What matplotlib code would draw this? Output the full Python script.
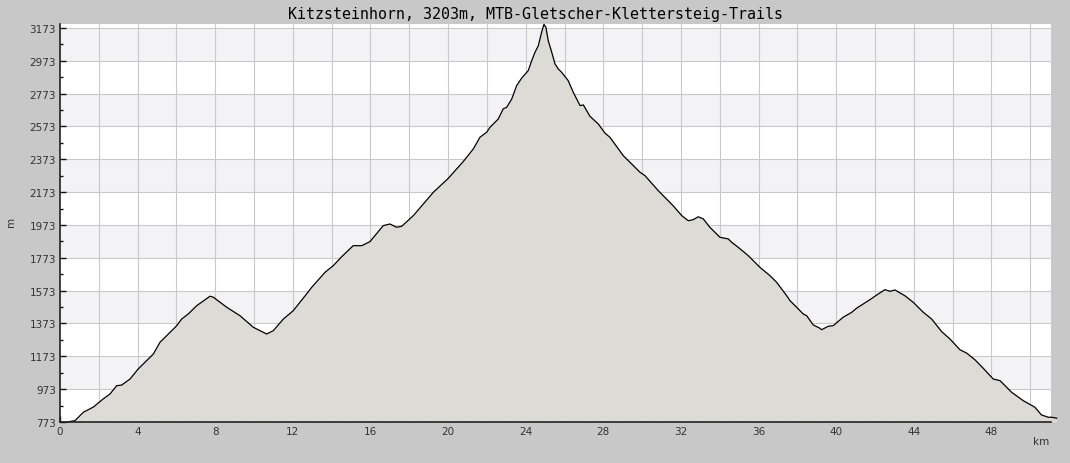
import numpy as np
import matplotlib
matplotlib.use("Agg")
import matplotlib.pyplot as plt
from matplotlib.ticker import MultipleLocator, FixedLocator

# distance (km) and elevation (m)
km = [0.36, 0.77, 1.20, 1.72, 2.22, 2.58, 2.92, 3.18, 3.61, 4.03, 4.81, 5.15, 5.50, 6.01,
      6.27, 6.61, 7.04, 7.73, 7.90, 8.59, 9.28, 9.96, 10.31, 10.65, 10.99, 11.51, 12.02,
      12.71, 12.97, 13.66, 14.08, 14.52, 15.11, 15.55, 15.97, 16.66, 17.00, 17.35, 17.61,
      18.21, 19.24, 20.01, 20.78, 21.30, 21.64, 21.99, 22.16, 22.59, 22.84, 23.02, 23.28,
      23.53, 23.79, 24.13, 24.31, 24.48, 24.65, 24.82, 24.94, 25.04, 25.16, 25.34, 25.51,
      25.68, 25.85, 26.19, 26.45, 26.80, 26.97, 27.31, 27.74, 28.08, 28.34, 29.03, 29.89,
      30.15, 30.83, 31.60, 32.04, 32.38, 32.63, 32.89, 33.15, 33.49, 34.01, 34.44, 34.61,
      34.95, 35.47, 36.07, 36.59, 36.93, 37.45, 37.62, 37.96, 38.30, 38.48, 38.82, 39.16,
      39.25, 39.59, 39.85, 40.36, 40.80, 41.05, 41.74, 42.17, 42.51, 42.77, 43.03, 43.54,
      43.97, 44.49, 44.92, 45.44, 45.86, 46.38, 46.72, 47.15, 47.58, 48.09, 48.44, 49.04,
      49.64, 50.24, 50.58, 50.93, 51.10, 51.36]
elev = [773, 781, 832, 864, 913, 944, 994, 998, 1035, 1096, 1187, 1258, 1299, 1359,
        1400, 1431, 1481, 1539, 1533, 1472, 1420, 1350, 1329, 1309, 1329, 1400, 1451,
        1553, 1593, 1685, 1725, 1780, 1847, 1847, 1871, 1969, 1979, 1959, 1965,
        2030, 2172, 2257, 2359, 2436, 2507, 2538, 2568, 2619, 2680, 2690, 2740,
        2821, 2867, 2913, 2974, 3025, 3065, 3147, 3195, 3177, 3096, 3025, 2954,
        2923, 2903, 2852, 2781, 2700, 2704, 2635, 2588, 2533, 2507, 2395, 2294,
        2273, 2182, 2090, 2030, 1999, 2005, 2023, 2010, 1959, 1898, 1888, 1868,
        1837, 1786, 1715, 1664, 1624, 1542, 1512, 1472, 1431, 1420, 1364, 1344,
        1335, 1356, 1360, 1411, 1441, 1466, 1518, 1553, 1579, 1569, 1577, 1542,
        1502, 1441, 1400, 1323, 1279, 1213, 1193, 1152, 1100, 1035, 1025, 954,
        903, 863, 816, 802, 802, 796]

title = "Kitzsteinhorn, 3203m, MTB-Gletscher-Klettersteig-Trails"
ytick_vals = [773, 973, 1173, 1373, 1573, 1773, 1973, 2173, 2373, 2573, 2773, 2973, 3173]
xtick_vals = [0, 4, 8, 12, 16, 20, 24, 28, 32, 36, 40, 44, 48]

bg = "#c8c8c8"
band = "#f3f2f5"
gridc = "#c9c9c9"
fillc = "#dcdbd6"

fig = plt.figure(figsize=(10.7, 4.64), dpi=100, facecolor=bg)
ax = fig.add_axes([60/1070, 1-423/464, (1051-60)/1070, (423-25)/464])
ax.set_facecolor("white")

ymin, ymax = 773, 3197
xmax = 51.07
ax.set_xlim(0, xmax)
ax.set_ylim(ymin, ymax)

# alternating bands
for i, lo in enumerate(ytick_vals):
    if i % 2 == 1:
        ax.axhspan(lo, lo + 200, color=band, lw=0, zorder=0)

# grid
for y in ytick_vals[1:]:
    ax.axhline(y, color=gridc, lw=0.8, zorder=0.5)
for x in np.arange(2, xmax, 2):
    ax.axvline(x, color=gridc, lw=0.8, zorder=0.5)

ax.fill_between(km, elev, ymin, color=fillc, lw=0, zorder=2, clip_on=False)
ax.plot(km, elev, color="black", lw=0.9, zorder=3, clip_on=False)

ax.xaxis.set_major_locator(FixedLocator(xtick_vals))
ax.xaxis.set_minor_locator(MultipleLocator(1))
ax.yaxis.set_major_locator(FixedLocator(ytick_vals))
ax.yaxis.set_minor_locator(FixedLocator(np.arange(873, 3197, 200)))

ax.tick_params(which="major", direction="in", length=4.5, width=1, color="#111111",
               labelsize=7.5, labelcolor="#333333", pad=3)
ax.tick_params(which="minor", direction="in", length=2.5, width=1, color="#111111")

for s in ["top", "right"]:
    ax.spines[s].set_visible(False)
for s in ["left", "bottom"]:
    ax.spines[s].set_color("#222222")
    ax.spines[s].set_linewidth(1.2)
    ax.spines[s].set_zorder(4)

fig.text(535/1070, 1-14/464, title, ha="center", va="center",
         family="DejaVu Sans Mono", fontsize=10.8, color="black")
fig.text(1041/1070, 1-442/464, "km", ha="center", va="center", fontsize=7.5, color="#333333")
fig.text(11/1070, 1-222/464, "m", ha="center", va="center", rotation=90, fontsize=7.5, color="#333333")

fig.savefig("out.png", dpi=100, facecolor=bg)
